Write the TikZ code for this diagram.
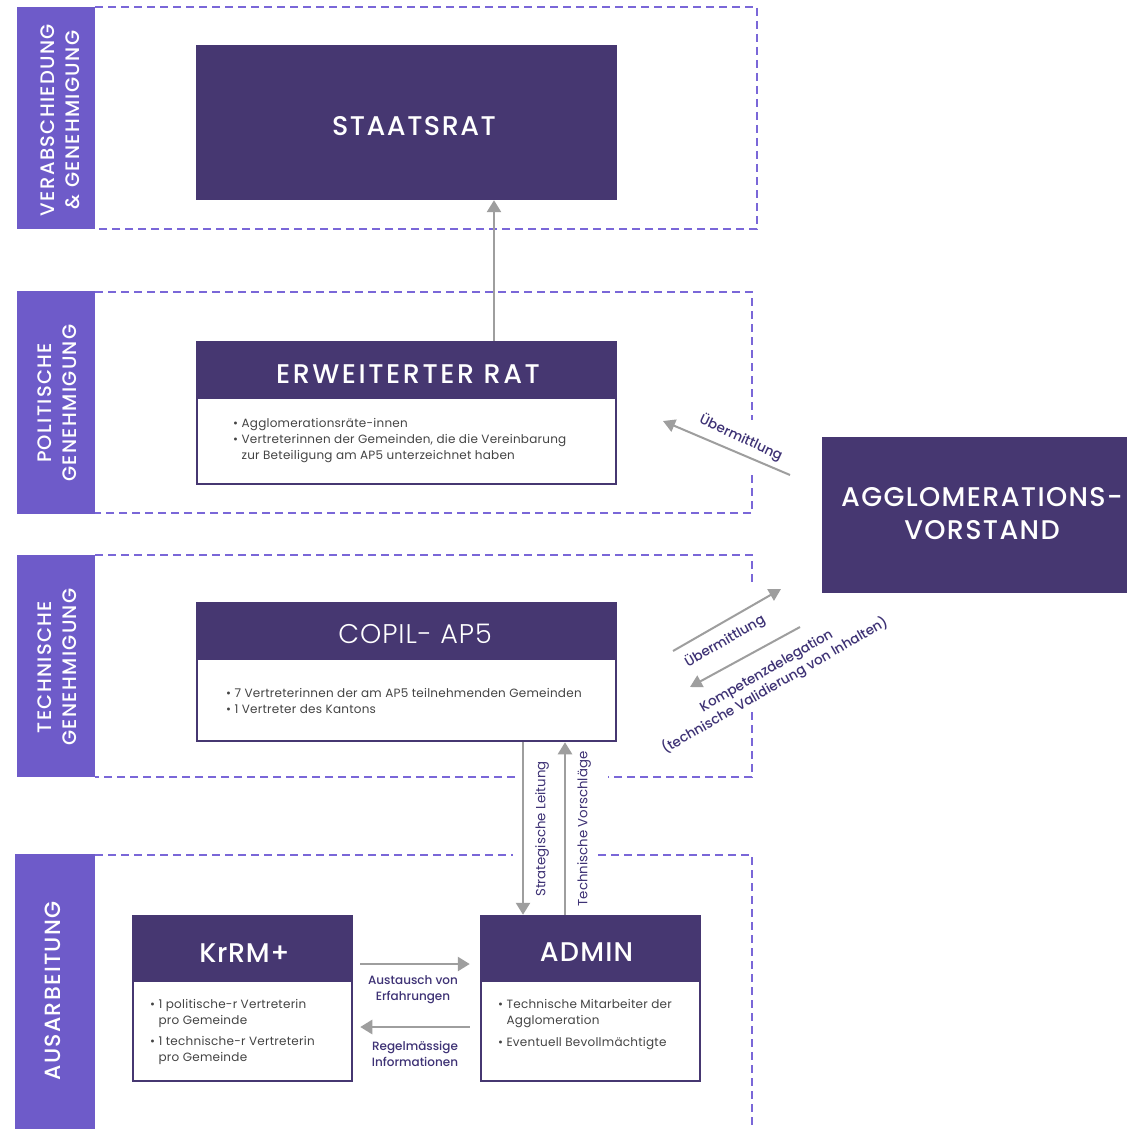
\documentclass[tikz,border=0pt]{standalone}
\usepackage{fontspec}
\usetikzlibrary{arrows.meta,calc}
\setmainfont{Poppins}
\IfFontExistsTF{Poppins Light}{\newfontfamily\plight{Poppins Light}}{\newfontfamily\plight{Poppins}}
\IfFontExistsTF{Poppins Medium}{\newfontfamily\pmed{Poppins Medium}}{\newfontfamily\pmed{Poppins}}
\definecolor{bandc}{HTML}{6E5BC9}
\definecolor{dashc}{HTML}{7A67D8}
\definecolor{darkc}{HTML}{463771}
\definecolor{arrc}{HTML}{9E9E9E}
\definecolor{lblc}{HTML}{3E3275}
\definecolor{bodyc}{HTML}{444444}
\newcommand\ttlfont[1]{\pmed\fontsize{27}{33}\selectfont\addfontfeature{LetterSpace=#1}}
\begin{document}
\begin{tikzpicture}[x=1pt,y=-1pt,
  bandbox/.style={fill=bandc, inner sep=0pt},
  bandtxt/.style={text=white, rotate=90, align=center, inner sep=0pt, font=\pmed\fontsize{19.5}{25}\selectfont\addfontfeature{LetterSpace=7}},
  dashframe/.style={draw=dashc, line width=1.8pt, dash pattern=on 8pt off 5pt},
  solidbox/.style={fill=darkc, inner sep=0pt},
  cardbox/.style={draw=darkc, line width=2.5pt, fill=white, inner sep=0pt},
  cardhead/.style={fill=darkc, inner sep=0pt, anchor=north},
  ttl/.style={text=white, inner sep=0pt, font=\ttlfont{5.5}},
  bodytxt/.style={text=bodyc, align=left, anchor=west, inner sep=0pt, font=\fontsize{12}{16}\selectfont\addfontfeature{LetterSpace=2}},
  flowarrow/.style={draw=arrc, line width=2.5pt, -{Triangle[width=14pt,length=12pt]}},
  diagarrow/.style={draw=arrc, line width=2pt, -{Triangle[width=13pt,length=12pt]}},
  flowlbl/.style={text=lblc, align=center, inner sep=0pt, font=\pmed\fontsize{12}{16}\selectfont},
  diaglbl/.style={text=lblc, align=center, inner sep=0pt, font=\pmed\fontsize{13.5}{17}\selectfont},
  vlbl/.style={text=lblc, align=center, inner sep=0pt, rotate=90, font=\fontsize{13.3}{16}\selectfont}]
\useasboundingbox (0,0) rectangle (1127,1129);
\fill[white] (0,0) rectangle (1127,1129);

% dashed frames
\draw[dashframe] (95,7) -- (757,7) -- (757,229) -- (95,229);
\draw[dashframe] (95,292) -- (752,292) -- (752,420);
\draw[dashframe] (752,475) -- (752,513) -- (95,513);
\draw[dashframe] (95,555) -- (752,555) -- (752,583);
\draw[dashframe] (752,712) -- (752,777) -- (608,777);
\draw[dashframe] (515,777) -- (95,777);
\draw[dashframe] (95,855) -- (513,855);
\draw[dashframe] (598,855) -- (752,855) -- (752,1129);

% band labels
\node[bandbox, minimum width=78, minimum height=222] (b1) at (56,118) {};
\node[bandtxt] (b1t) at (60,120) {VERABSCHIEDUNG\\\& GENEHMIGUNG};
\node[bandbox, minimum width=78, minimum height=223] (b2) at (56,402.5) {};
\node[bandtxt] (b2t) at (57,403) {POLITISCHE\\GENEHMIGUNG};
\node[bandbox, minimum width=78, minimum height=222] (b3) at (56,666) {};
\node[bandtxt] (b3t) at (57,667) {TECHNISCHE\\GENEHMIGUNG};
\node[bandbox, minimum width=80, minimum height=275] (b4) at (55,991.5) {};
\node[bandtxt, font=\pmed\fontsize{22}{25}\selectfont\addfontfeature{LetterSpace=6}] (b4t) at (53,991) {AUSARBEITUNG};

% Staatsrat
\node[solidbox, minimum width=421, minimum height=155] (sr) at (406.5,122.5) {};
\node[ttl] (srt) at (414,126) {STAATSRAT};

% Erweiterter Rat
\node[cardbox, minimum width=419, minimum height=142] (erw) at (406.5,413) {};
\node[cardhead, minimum width=419, minimum height=58] (erwh) at (erw.north) {};
\node[ttl, font=\ttlfont{9.5}] (erwt) at (408,374) {ERWEITERTER RAT};
\node[bodytxt] (erwb) at (233,441) {• Agglomerationsräte-innen\\• Vertreterinnen der Gemeinden, die die Vereinbarung\\\phantom{• }zur Beteiligung am AP5 unterzeichnet haben};

% COPIL
\node[cardbox, minimum width=419, minimum height=138] (cop) at (406.5,672) {};
\node[cardhead, minimum width=419, minimum height=58] (coph) at (cop.north) {};
\node[ttl, font=\plight\fontsize{27}{30}\selectfont\addfontfeature{LetterSpace=3.5}] (copt) at (415,634) {COPIL- AP5};
\node[bodytxt] (copb) at (226,700.5) {• 7 Vertreterinnen der am AP5 teilnehmenden Gemeinden\\• 1 Vertreter des Kantons};

% Agglomerationsvorstand
\node[solidbox, minimum width=305, minimum height=156] (agg) at (974.5,515) {};
\node[ttl, align=center, font=\ttlfont{5}] (aggt) at (982,514) {AGGLOMERATIONS-\\VORSTAND};

% KrRM+
\node[cardbox, minimum width=219, minimum height=165] (krm) at (242.5,998.5) {};
\node[cardhead, minimum width=219, minimum height=67] (krmh) at (krm.north) {};
\node[ttl, font=\ttlfont{2.5}] (krmt) at (244.5,953) {KrRM+};
\node[bodytxt] (krmb) at (150,1031.5) {• 1 politische-r Vertreterin\\\phantom{• }pro Gemeinde\\[5pt]• 1 technische-r Vertreterin\\\phantom{• }pro Gemeinde};

% ADMIN
\node[cardbox, minimum width=219, minimum height=165] (adm) at (590.5,998.5) {};
\node[cardhead, minimum width=219, minimum height=67] (admh) at (adm.north) {};
\node[ttl, font=\ttlfont{4.5}] (admt) at (586.5,952) {ADMIN};
\node[bodytxt] (admb) at (498,1024.5) {• Technische Mitarbeiter der\\\phantom{• }Agglomeration\\[6pt]• Eventuell Bevollmächtigte};

% connectors
\draw[flowarrow] ([xshift=87.5pt]erw.north) -- ([xshift=87.5pt]sr.south);

\coordinate (u1s) at (790,475);
\coordinate (u1e) at (663,421);
\draw[diagarrow] (u1s) -- (u1e);
\node[diaglbl, rotate=-25] (u1l) at (741,438) {Übermittlung};

\coordinate (u2s) at (673,651);
\coordinate (u2e) at (781,589);
\draw[diagarrow] (u2s) -- (u2e);
\node[diaglbl, rotate=30] (u2l) at (725,641) {Übermittlung};

\coordinate (kds) at (800,627);
\coordinate (kde) at (690,687);
\draw[diagarrow] (kds) -- (kde);
\node[diaglbl, rotate=30] (kdl) at (771,679) {Kompetenzdelegation\\(technische Validierung von Inhalten)};

\draw[flowarrow] ([xshift=116.5pt]cop.south) -- ([xshift=-67.5pt]adm.north);
\draw[flowarrow] ([xshift=-25.5pt]adm.north) -- ([xshift=158.5pt]cop.south);
\node[vlbl] (sll) at (542,829) {Strategische Leitung};
\node[vlbl] (tvl) at (584,829) {Technische Vorschläge};

\draw[flowarrow, shorten <=7pt, shorten >=10pt] ([yshift=34.5pt]krm.east) -- ([yshift=34.5pt]adm.west);
\draw[flowarrow, shorten <=10pt, shorten >=7pt] ([yshift=-28.5pt]adm.west) -- ([yshift=-28.5pt]krm.east);
\node[flowlbl] (aul) at (413,990) {Austausch von\\Erfahrungen};
\node[flowlbl] (rgl) at (415,1054) {Regelmässige\\Informationen};
\end{tikzpicture}
\end{document}
